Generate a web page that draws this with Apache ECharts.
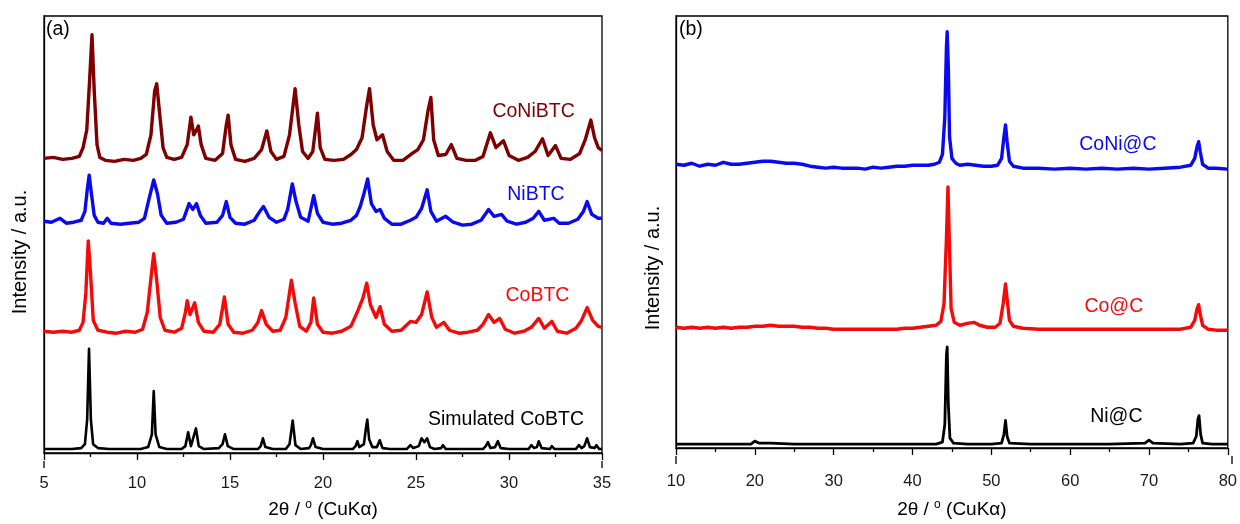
<!DOCTYPE html>
<html>
<head>
<meta charset="utf-8">
<script src="https://cdn.jsdelivr.net/npm/echarts@6/dist/echarts.min.js"></script>
<style>
  html, body { margin: 0; padding: 0; background: #fff; }
  #chart { width: 1240px; height: 524px; }
</style>
</head>
<body>
<div id="chart"></div>
<script>
// XRD patterns: [2θ (deg), intensity above the pattern's own baseline (a.u.)]

// (a) MOF precursors
const coNiBTC = [[5.0,1],[5.5,2],[6.0,0],[6.5,1],[6.9,3],[7.1,12],[7.3,30],[7.45,80],[7.58,127],[7.7,70],[7.85,15],[8.0,2],[8.3,-1],[8.8,-2],[9.3,0],[9.8,-1],[10.2,1],[10.5,5],[10.75,25],[10.95,70],[11.06,77],[11.2,50],[11.4,12],[11.6,2],[12.0,0],[12.4,2],[12.7,15],[12.9,43],[13.05,25],[13.2,30],[13.3,34],[13.45,15],[13.7,1],[14.2,-1],[14.6,6],[14.8,35],[14.9,45],[15.05,15],[15.3,0],[15.8,-2],[16.3,1],[16.7,10],[16.98,29],[17.2,8],[17.5,0],[17.9,3],[18.2,25],[18.5,72],[18.7,35],[18.9,8],[19.2,1],[19.45,8],[19.7,47],[19.85,12],[20.1,0],[20.6,-1],[21.1,0],[21.5,5],[21.8,10],[22.1,22],[22.35,55],[22.5,72],[22.7,35],[22.9,20],[23.2,25],[23.45,8],[23.8,-1],[24.3,-1],[24.8,6],[25.1,10],[25.4,20],[25.65,50],[25.8,63],[25.95,20],[26.2,4],[26.6,5],[26.9,15],[27.2,1],[27.7,-1],[28.2,-1],[28.6,3],[29.0,27],[29.3,12],[29.7,19],[30.0,4],[30.5,-1],[31.0,2],[31.4,8],[31.8,21],[32.1,4],[32.5,14],[32.8,1],[33.3,0],[33.8,6],[34.1,20],[34.4,40],[34.6,22],[34.8,12],[35.0,9]];

const niBTC = [[5.0,2],[5.4,1],[5.86,5],[6.2,0],[6.6,1],[7.0,3],[7.2,12],[7.33,35],[7.43,49],[7.55,30],[7.7,8],[7.9,1],[8.2,0],[8.4,5],[8.6,0],[9.1,-1],[9.6,0],[10.1,1],[10.4,5],[10.65,25],[10.9,44],[11.1,30],[11.3,8],[11.6,0],[12.1,1],[12.5,4],[12.8,20],[13.0,14],[13.2,20],[13.4,8],[13.7,0],[14.3,1],[14.6,8],[14.8,22],[15.0,6],[15.3,0],[15.8,-1],[16.3,3],[16.6,12],[16.8,17],[17.1,6],[17.5,1],[17.9,4],[18.1,14],[18.35,40],[18.55,22],[18.8,6],[19.2,2],[19.5,28],[19.7,10],[20.0,1],[20.5,-1],[21.0,0],[21.5,3],[21.8,8],[22.0,17],[22.2,30],[22.4,45],[22.6,20],[22.85,12],[23.07,14],[23.3,5],[23.7,-1],[24.2,-1],[24.7,3],[25.0,6],[25.3,15],[25.6,34],[25.8,12],[26.1,2],[26.6,7],[27.0,1],[27.5,-2],[28.0,-1],[28.5,3],[28.9,14],[29.2,7],[29.6,9],[29.9,2],[30.4,-1],[30.9,1],[31.3,5],[31.6,12],[31.9,3],[32.4,5],[32.7,0],[33.2,0],[33.7,4],[34.0,12],[34.2,22],[34.45,9],[34.8,5],[35.0,5]];

const coBTC = [[5.0,1],[5.5,0],[6.0,1],[6.5,0],[6.9,2],[7.1,10],[7.25,40],[7.38,93],[7.5,60],[7.65,12],[7.9,2],[8.4,0],[8.9,-1],[9.4,1],[9.9,0],[10.3,3],[10.55,20],[10.75,55],[10.9,80],[11.05,55],[11.25,15],[11.5,2],[12.0,0],[12.4,4],[12.6,20],[12.7,32],[12.85,18],[13.1,30],[13.3,10],[13.6,1],[14.1,0],[14.45,8],[14.7,36],[14.9,8],[15.2,0],[15.7,-1],[16.2,2],[16.5,10],[16.7,22],[16.95,8],[17.3,1],[17.7,2],[18.0,15],[18.3,53],[18.5,30],[18.75,6],[19.1,1],[19.35,10],[19.5,35],[19.7,8],[20.0,0],[20.5,-1],[21.0,1],[21.5,6],[21.9,23],[22.15,35],[22.35,50],[22.55,28],[22.85,15],[23.07,26],[23.3,8],[23.7,1],[24.2,2],[24.7,11],[25.0,10],[25.3,18],[25.6,41],[25.85,15],[26.1,5],[26.5,10],[26.8,2],[27.3,-1],[27.8,0],[28.3,2],[28.6,8],[28.9,18],[29.2,10],[29.5,14],[29.8,3],[30.3,-1],[30.8,1],[31.2,5],[31.6,14],[31.9,4],[32.3,11],[32.6,1],[33.1,-1],[33.6,4],[33.9,12],[34.2,25],[34.5,12],[34.8,6],[35.0,5]];

const simCoBTC = [[5.0,0],[6.5,0],[7.0,1],[7.2,5],[7.32,30],[7.42,102],[7.52,30],[7.64,5],[7.9,1],[8.5,0],[10.2,0],[10.6,2],[10.8,15],[10.9,59],[11.0,15],[11.2,2],[11.6,0],[12.4,0],[12.6,3],[12.75,17],[12.9,3],[13.0,5],[13.17,21],[13.32,3],[13.6,0],[14.4,1],[14.6,5],[14.73,15],[14.88,3],[15.2,0],[16.5,0],[16.65,3],[16.77,11],[16.9,2],[17.3,0],[18.0,0],[18.2,5],[18.37,29],[18.52,4],[18.8,0],[19.25,1],[19.35,4],[19.46,11],[19.6,2],[20.0,0],[21.6,0],[21.75,3],[21.85,8],[21.95,2],[22.2,5],[22.3,20],[22.38,30],[22.48,10],[22.65,2],[22.9,2],[23.05,9],[23.2,1],[23.6,0],[24.5,0],[24.7,4],[24.85,1],[25.15,3],[25.3,11],[25.45,7],[25.6,11],[25.75,2],[26.0,0],[26.35,1],[26.45,4],[26.6,0],[28.6,0],[28.75,3],[28.87,7],[29.0,1],[29.25,2],[29.4,8],[29.55,1],[30.0,0],[31.05,0],[31.2,4],[31.35,1],[31.5,2],[31.6,8],[31.75,1],[32.2,0],[32.3,3],[32.45,0],[33.6,0],[33.76,4],[33.9,1],[34.05,3],[34.2,11],[34.35,2],[34.6,1],[34.7,4],[34.85,0],[35.0,0]];

// (b) carbonised products
const coNiC = [[10,2],[11,1],[12,3],[13,0],[14,2],[15,1],[16,4],[17,2],[18,2],[19,3],[20,4],[21,5],[22,5],[23,4],[24,3],[25,3],[26,2],[27,0],[28,-1],[29,-2],[30,-1],[31,-2],[32,-2],[33,-2],[34,-3],[35,-1],[36,-2],[37,-1],[38,0],[39,0],[40,1],[41,1],[42,1],[42.8,2],[43.4,4],[43.8,12],[44.1,50],[44.3,120],[44.4,137],[44.55,100],[44.7,30],[45.0,8],[45.5,3],[46,1],[47,2],[48,1],[49,0],[50,0],[50.8,1],[51.3,8],[51.6,30],[51.8,42],[52.0,25],[52.3,5],[52.8,0],[54,-2],[56,-2],[58,-3],[60,-2],[62,-3],[64,-2],[66,-3],[68,-2],[70,-3],[72,-2],[74,-1],[75.3,1],[75.8,8],[76.1,20],[76.3,25],[76.5,15],[76.8,2],[77.5,-2],[78.5,-2],[80,-3]];

const coC = [[10,1],[11,0],[12,1],[13,0],[14,1],[15,0],[16,1],[17,0],[18,1],[19,1],[20,2],[21,2],[22,3],[23,2],[24,2],[25,2],[26,1],[27,1],[28,0],[29,0],[30,-1],[31,-1],[32,-1],[33,-1],[34,-1],[35,-1],[36,-1],[37,-1],[38,-1],[39,0],[40,0],[41,1],[42,2],[43,3],[43.6,7],[44.0,25],[44.3,90],[44.5,144],[44.7,80],[44.9,20],[45.3,6],[46,3],[47,5],[47.8,6],[48.5,3],[49.5,1],[50.5,1],[51.1,5],[51.5,25],[51.8,45],[52.0,30],[52.3,8],[52.8,2],[54,0],[56,-1],[58,-1],[60,-1],[62,-1],[64,-1],[66,-1],[68,-1],[70,-1],[72,-1],[74,-1],[75.3,1],[75.8,8],[76.1,20],[76.3,24],[76.5,14],[76.8,3],[77.5,-1],[78.5,-2],[80,-2]];

const niC = [[10,0],[15,0],[19.5,0],[20,3],[20.5,1],[22,1],[25,0],[30,0],[35,0],[40,0],[43,0],[43.8,2],[44.1,20],[44.3,90],[44.4,99],[44.55,40],[44.75,6],[45.2,1],[47,0],[50,0],[51.3,1],[51.6,10],[51.8,24],[52.0,8],[52.3,1],[55,0],[60,0],[65,0],[69.5,1],[70,4],[70.5,1],[74,0],[75.6,1],[76.0,8],[76.2,25],[76.35,29],[76.55,10],[76.8,1],[78,0],[80,0]];

// vertical stacking offsets (a.u.)
const offsetsA = { coNiBTC: 299, niBTC: 234, coBTC: 123, simCoBTC: 4 };
const offsetsB = { coNiC: 287, coC: 122, niC: 4 };

// pattern names and where they are written, [2θ, a.u.]
const namesA = ['CoNiBTC', 'NiBTC', 'CoBTC', 'Simulated CoBTC'];
const namePosA = [[31.32, 348], [31.45, 263], [31.53, 160], [29.84, 34]];
const namesB = ['CoNi@C', 'Co@C', 'Ni@C'];
const namePosB = [[66.05, 309], [65.54, 144], [65.86, 32]];

const ticksA = { min: 5, max: 35, step: 5 };
const ticksB = { min: 10, max: 80, step: 10 };

const FONT = '"Liberation Sans", Arial, sans-serif';
const DARKRED = '#7f0000', BLUE = '#0a0af0', RED = '#f50a0a', BLACK = '#000000';

function lift(arr, off) { return arr.map(p => [p[0], p[1] + off]); }

function xAxis(idx, t, margin) {
  return {
    type: 'value', gridIndex: idx, min: t.min, max: t.max, interval: t.step,
    axisLine: { show: true, onZero: false, lineStyle: { color: '#000', width: 1.3 } },
    axisTick: { show: true, inside: false, length: 7, lineStyle: { color: '#000', width: 1.3 } },
    minorTick: { show: true, splitNumber: 2, length: 4, lineStyle: { color: '#000', width: 1.3 } },
    axisLabel: { fontSize: 16.5, color: '#1a1a1a', fontFamily: FONT, margin: margin, showMaxLabel: true, showMinLabel: true },
    splitLine: { show: false }, minorSplitLine: { show: false },
    name: '{n|2θ / }{s|o}{n| (CuKα)}', nameLocation: 'middle', nameGap: idx === 0 ? 46 : 51,
    nameTextStyle: {
      rich: {
        n: { fontSize: 19, fontFamily: FONT, color: '#000' },
        s: { fontSize: 12, fontFamily: FONT, color: '#000', padding: [0, 0, 9, 0] }
      }
    }
  };
}

function yAxis(idx, max) {
  return {
    type: 'value', gridIndex: idx, min: 0, max: max,
    axisLine: { show: true, lineStyle: { color: '#000', width: 1.3 } },
    axisTick: { show: false }, axisLabel: { show: false }, splitLine: { show: false }
  };
}

function pattern(name, data, off, color, width, axisIdx, labelPos) {
  return {
    type: 'line', name: name, xAxisIndex: axisIdx, yAxisIndex: axisIdx,
    data: lift(data, off), showSymbol: false, symbol: 'none', clip: true,
    lineStyle: { color: color, width: width, join: 'round' },
    itemStyle: { color: color },
    z: 3,
    markPoint: {
      symbol: 'circle', symbolSize: 0, silent: true, animation: false,
      data: [{ coord: labelPos, name: name }],
      label: { show: true, position: 'inside', formatter: name, color: color, fontSize: 19.5, fontFamily: FONT }
    }
  };
}

const chart = echarts.init(document.getElementById('chart'), null, { renderer: 'canvas' });

const frame = { show: true, borderColor: '#000', borderWidth: 1.3, backgroundColor: 'transparent' };
const gA = { left: 44, top: 16, width: 558, height: 445 };
const gB = { left: 676, top: 16, width: 556, height: 440 };

function frameFoot(g, len) {
  const yb = g.top + g.height;
  return [g.left, g.left + g.width].map(x => ({
    type: 'line', shape: { x1: x, y1: yb, x2: x, y2: yb + len },
    style: { stroke: '#000', lineWidth: 1.3 }, silent: true
  }));
}

function text(str, x, y, rot, size) {
  return {
    type: 'text', x: x, y: y, rotation: rot, silent: true,
    style: { text: str, fill: '#000', fontSize: size, fontFamily: FONT, align: 'center', verticalAlign: 'middle' }
  };
}

chart.setOption({
  animation: false,
  backgroundColor: '#fff',
  grid: [Object.assign({}, gA, frame), Object.assign({}, gB, frame)],
  xAxis: [xAxis(0, ticksA, 22), xAxis(1, ticksB, 25)],
  yAxis: [yAxis(0, 445), yAxis(1, 440)],
  series: [
    pattern(namesA[0], coNiBTC, offsetsA.coNiBTC, DARKRED, 3.4, 0, namePosA[0]),
    pattern(namesA[1], niBTC, offsetsA.niBTC, BLUE, 3.4, 0, namePosA[1]),
    pattern(namesA[2], coBTC, offsetsA.coBTC, RED, 3.4, 0, namePosA[2]),
    pattern(namesA[3], simCoBTC, offsetsA.simCoBTC, BLACK, 2.6, 0, namePosA[3]),
    pattern(namesB[0], coNiC, offsetsB.coNiC, BLUE, 3.4, 1, namePosB[0]),
    pattern(namesB[1], coC, offsetsB.coC, RED, 3.4, 1, namePosB[1]),
    pattern(namesB[2], niC, offsetsB.niC, BLACK, 2.8, 1, namePosB[2])
  ],
  graphic: [].concat(
    frameFoot(gA, 7), frameFoot(gB, 8),
    [
      text('Intensity / a.u.', 20, 252, Math.PI / 2, 20),
      text('Intensity / a.u.', 653, 268, Math.PI / 2, 20),
      { type: 'text', x: 46, y: 30, silent: true, style: { text: '(a)', fill: '#000', fontSize: 19.5, fontFamily: FONT, align: 'left', verticalAlign: 'middle' } },
      { type: 'text', x: 679, y: 30, silent: true, style: { text: '(b)', fill: '#000', fontSize: 19.5, fontFamily: FONT, align: 'left', verticalAlign: 'middle' } }
    ]
  )
});
</script>
</body>
</html>
